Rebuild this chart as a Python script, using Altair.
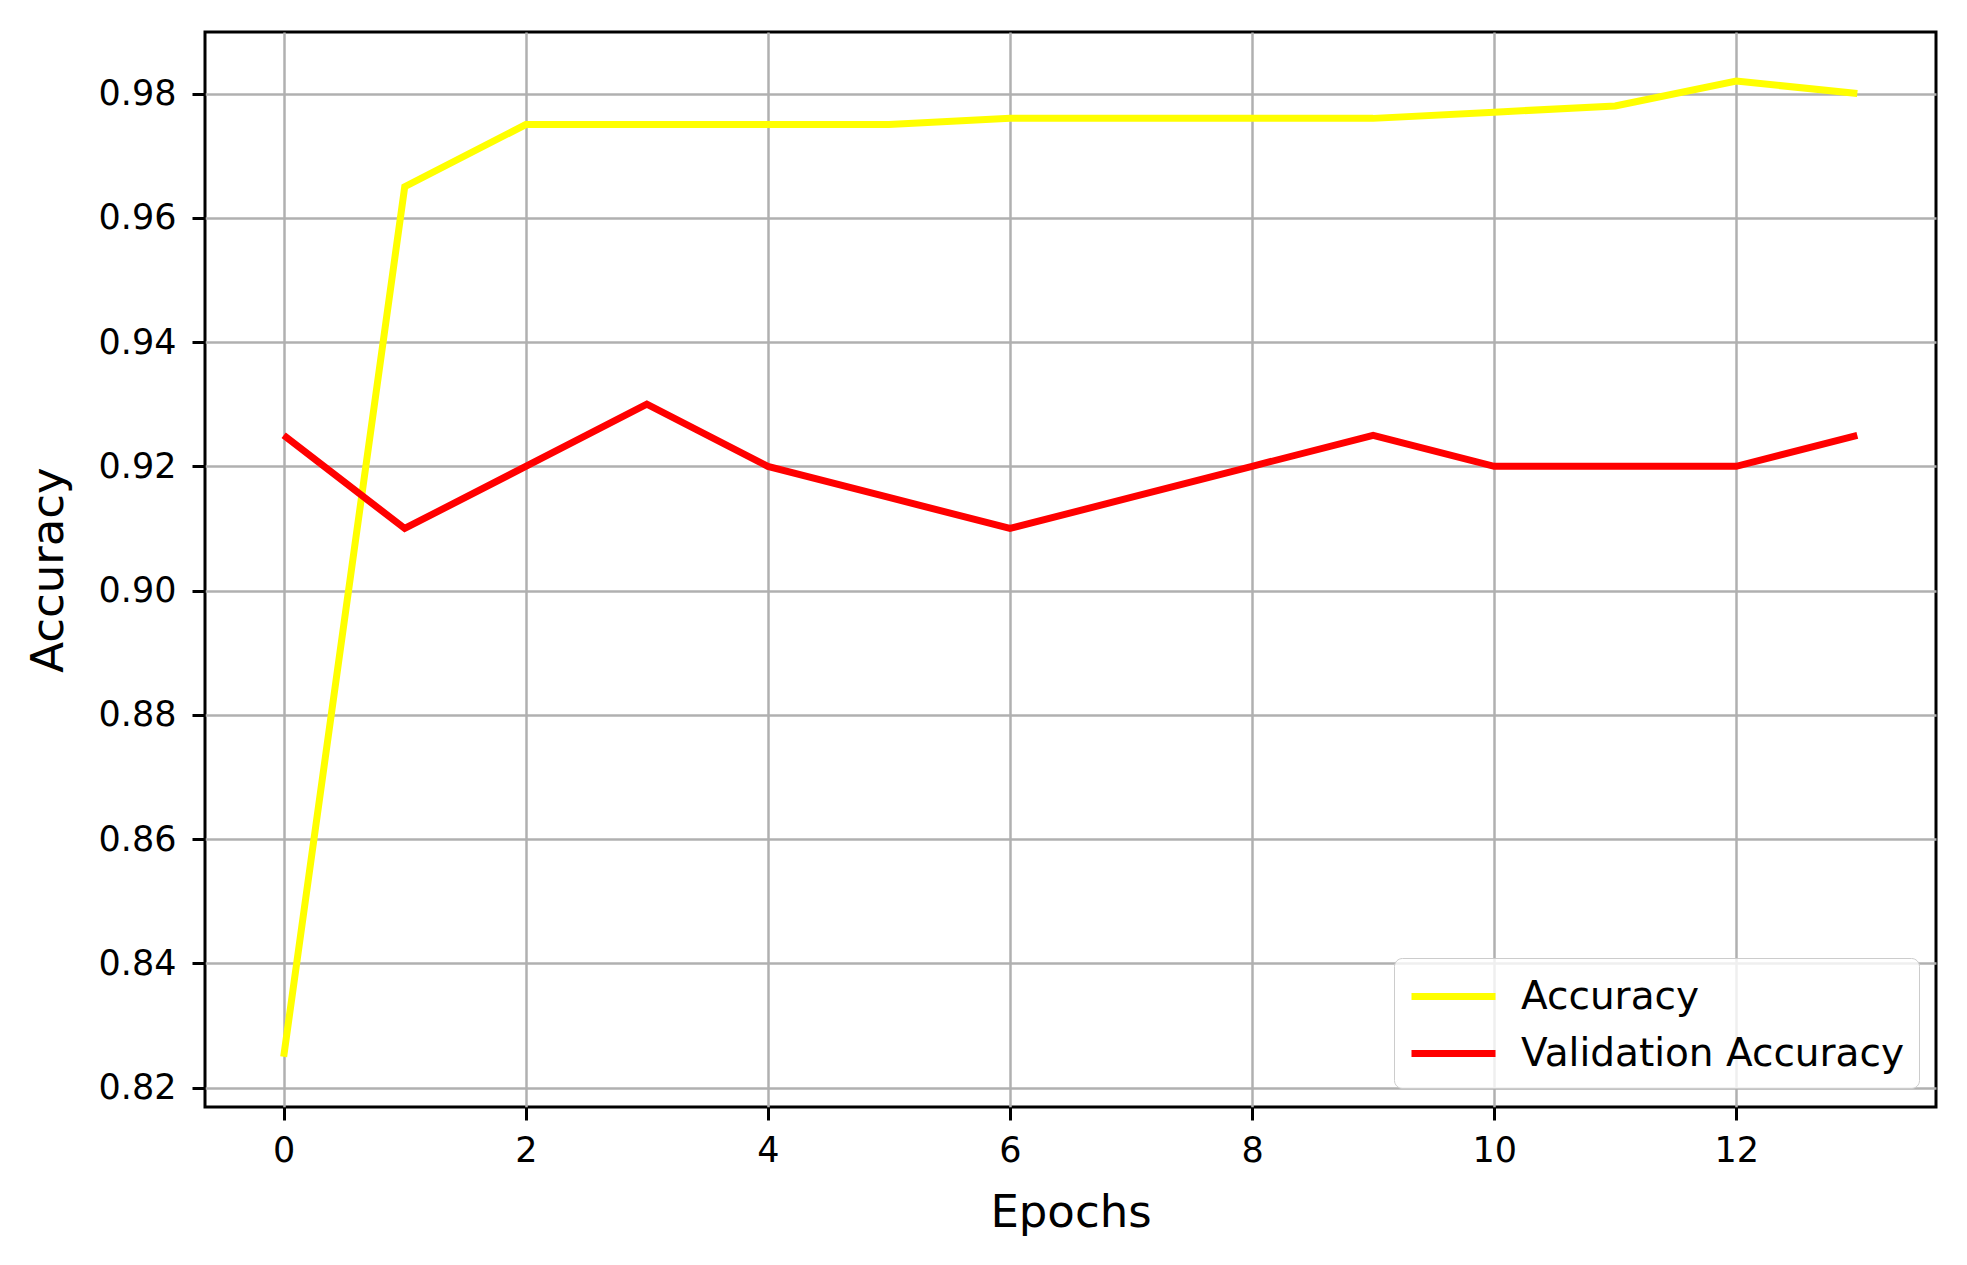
import altair as alt
import pandas as pd

epochs = list(range(14))
accuracy = [0.825, 0.965, 0.975, 0.975, 0.975, 0.975, 0.976, 0.976, 0.976, 0.976, 0.977, 0.978, 0.982, 0.980]
val_accuracy = [0.925, 0.910, 0.920, 0.930, 0.920, 0.915, 0.910, 0.915, 0.920, 0.925, 0.920, 0.920, 0.920, 0.925]
series_names = ["Accuracy", "Validation Accuracy"]
series_colors = ["#ffff00", "#ff0000"]
x_ticks = [0, 2, 4, 6, 8, 10, 12]
y_ticks = [0.82, 0.84, 0.86, 0.88, 0.90, 0.92, 0.94, 0.96, 0.98]

rows = []
for e, a in zip(epochs, accuracy):
    rows.append({"epoch": e, "value": a, "series": series_names[0]})
for e, v in zip(epochs, val_accuracy):
    rows.append({"epoch": e, "value": v, "series": series_names[1]})
df = pd.DataFrame(rows)

FONT = "DejaVu Sans"

chart = alt.Chart(df).mark_line(strokeWidth=7, strokeJoin="miter", strokeCap="butt").encode(
    x=alt.X("epoch:Q",
            scale=alt.Scale(domain=[-0.65, 13.65], nice=False, zero=False),
            axis=alt.Axis(values=x_ticks, format="d", title="Epochs",
                          labelFontSize=35, labelFont=FONT, labelColor="#000000",
                          labelPadding=13, tickSize=13, tickWidth=3, tickColor="#000000",
                          domain=False, grid=True, gridColor="#b0b0b0", gridWidth=2.5,
                          titleFont=FONT, titleFontSize=45, titleFontWeight="normal",
                          titleColor="#000000", titleBaseline="alphabetic",
                          titleY=119)),
    y=alt.Y("value:Q",
            scale=alt.Scale(domain=[0.8169, 0.9899], nice=False, zero=False),
            axis=alt.Axis(values=y_ticks, format=".2f", title="Accuracy",
                          labelFontSize=35, labelFont=FONT, labelColor="#000000",
                          labelPadding=16, tickSize=13, tickWidth=3, tickColor="#000000",
                          domain=False, grid=True, gridColor="#b0b0b0", gridWidth=2.5,
                          titleFont=FONT, titleFontSize=45, titleFontWeight="normal",
                          titleColor="#000000", titleBaseline="alphabetic",
                          titleX=-143)),
    color=alt.Color("series:N",
                    scale=alt.Scale(domain=series_names, range=series_colors),
                    legend=alt.Legend(title=None, orient="none", legendX=1189, legendY=926,
                                      symbolType="M-1,0H3", symbolSize=1764, symbolStrokeWidth=7,
                                      labelFont=FONT, labelFontSize=39, labelColor="#000000",
                                      labelLimit=800, labelOffset=64, rowPadding=12, padding=14,
                                      fillColor="rgba(255,255,255,0.8)", strokeColor="#cccccc",
                                      cornerRadius=8)),
    order=alt.Order("epoch:Q"),
).properties(
    width=1731,
    height=1075,
    autosize=alt.AutoSizeParams(type="none"),
    padding={"left": 197, "top": 24, "right": 20, "bottom": 150},
    background="white",
).configure_view(
    stroke="#000000", strokeWidth=3
)

chart.save("out.html", embed_options={"renderer": "svg", "actions": False})
